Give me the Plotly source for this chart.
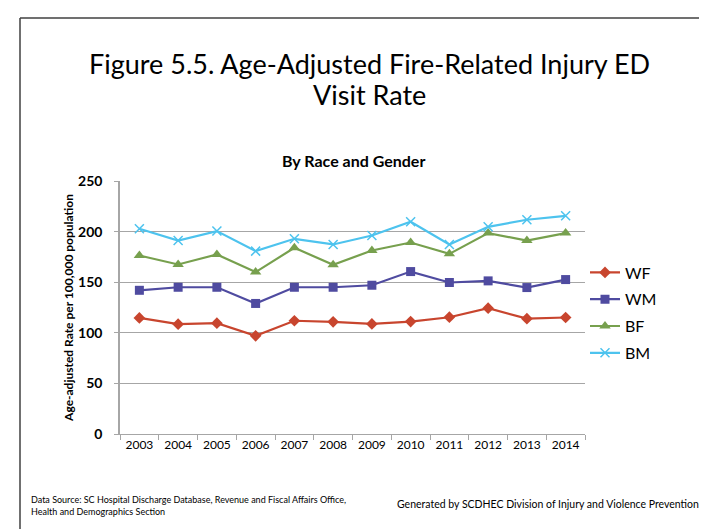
import plotly.graph_objects as go

years = ["2003", "2004", "2005", "2006", "2007", "2008",
         "2009", "2010", "2011", "2012", "2013", "2014"]

wf = [114.7, 108.5, 109.5, 97.0, 111.9, 110.8, 108.8, 111.1, 115.4, 124.3, 114.0, 115.1]
wm = [142.0, 145.0, 145.0, 129.0, 145.0, 145.0, 147.0, 160.5, 149.7, 151.3, 144.7, 152.6]
bf = [176.4, 167.5, 177.4, 160.0, 184.0, 167.2, 181.3, 189.2, 178.0, 198.5, 191.2, 198.5]
bm = [202.8, 191.2, 200.5, 180.7, 192.9, 187.3, 196.2, 209.7, 187.3, 204.7, 211.7, 215.6]

font = "Lato"

# plot area in pixels (used to place the free text in paper units)
L, R, T, B = 112, 577, 173, 426


def px(x):
    return (x - L) / (R - L)


def py(y):
    return (B - y) / (B - T)


fig = go.Figure()

fig.add_trace(go.Scatter(
    x=years, y=wf, name="WF", mode="lines+markers", legendgroup="wf",
    line=dict(color="#C8452E", width=2.2),
    marker=dict(symbol="diamond", size=9, color="#C8452E")
))
fig.add_trace(go.Scatter(
    x=years, y=wm, name="WM", mode="lines+markers", legendgroup="wm",
    line=dict(color="#4F4BA0", width=2.2),
    marker=dict(symbol="square", size=9, color="#4F4BA0")
))
fig.add_trace(go.Scatter(
    x=years, y=bf, name="BF", mode="lines+markers", legendgroup="bf",
    line=dict(color="#77A04E", width=2.2),
    marker=dict(symbol="triangle-up", size=10, color="#77A04E")
))
fig.add_trace(go.Scatter(
    x=years, y=bm, name="BM", mode="lines+markers", legendgroup="bm",
    line=dict(color="#4DC3EE", width=2.2),
    marker=dict(symbol="x-thin", size=9, color="#4DC3EE",
                line=dict(color="#4DC3EE", width=1.5))
))

fig.update_layout(
    width=707, height=529,
    margin=dict(l=L, r=707 - R, t=T, b=529 - B),
    paper_bgcolor="white", plot_bgcolor="white",
    font=dict(family=font, color="black"),
    showlegend=True,
    legend=dict(
        x=px(577), y=py(305), xanchor="left", yanchor="middle",
        font=dict(size=16, family=font), traceorder="grouped",
        bgcolor="rgba(0,0,0,0)", tracegroupgap=3
    ),
    xaxis=dict(
        type="category", range=[-0.5, 11.5],
        tickson="boundaries", ticks="outside", ticklen=5,
        tickcolor="#A6A6A6", showline=True, linecolor="#A6A6A6", linewidth=1,
        showgrid=False, tickfont=dict(size=12, family=font)
    ),
    yaxis=dict(
        range=[0, 250], dtick=50, ticks="outside", ticklen=4,
        tickcolor="#A6A6A6", showline=True, linecolor="#A6A6A6", linewidth=1.5,
        gridcolor="#A6A6A6", gridwidth=1, zeroline=False,
        ticklabelstandoff=9,
        tickfont=dict(size=14, family=font, weight="bold"),
        title=dict(text="Age-adjusted Rate per 100,000 population",
                   font=dict(size=12, family=font, weight="bold"), standoff=2)
    ),
)

# title, two lines
fig.add_annotation(
    text="Figure 5.5. Age-Adjusted Fire-Related Injury ED",
    xref="paper", yref="paper", x=px(361), y=py(55),
    xanchor="center", yanchor="middle", showarrow=False,
    font=dict(size=27, family=font)
)
fig.add_annotation(
    text="Visit Rate",
    xref="paper", yref="paper", x=px(361), y=py(87),
    xanchor="center", yanchor="middle", showarrow=False,
    font=dict(size=27, family=font)
)
fig.add_annotation(
    text="<b>By Race and Gender</b>",
    xref="paper", yref="paper", x=px(345), y=py(152),
    xanchor="center", yanchor="middle", showarrow=False,
    font=dict(size=16, family=font)
)

# footer notes
fig.add_annotation(
    text="Data Source: SC Hospital Discharge Database, Revenue and Fiscal Affairs Office,<br>Health and Demographics Section",
    xref="paper", yref="paper", x=px(21), y=py(497),
    xanchor="left", yanchor="middle", showarrow=False, align="left",
    font=dict(size=9, family=font)
)
fig.add_annotation(
    text="Generated by SCDHEC Division of Injury and Violence Prevention",
    xref="paper", yref="paper", x=px(387), y=py(496),
    xanchor="left", yanchor="middle", showarrow=False,
    font=dict(size=10.5, family=font)
)

# slide frame (left and top edges)
fig.add_shape(type="line", xref="paper", yref="paper",
              x0=px(12), x1=px(12), y0=py(10), y1=py(540),
              line=dict(color="#404040", width=1.5))
fig.add_shape(type="line", xref="paper", yref="paper",
              x0=px(12), x1=px(720), y0=py(10), y1=py(10),
              line=dict(color="#404040", width=1.5))

fig.write_html("out.html")
